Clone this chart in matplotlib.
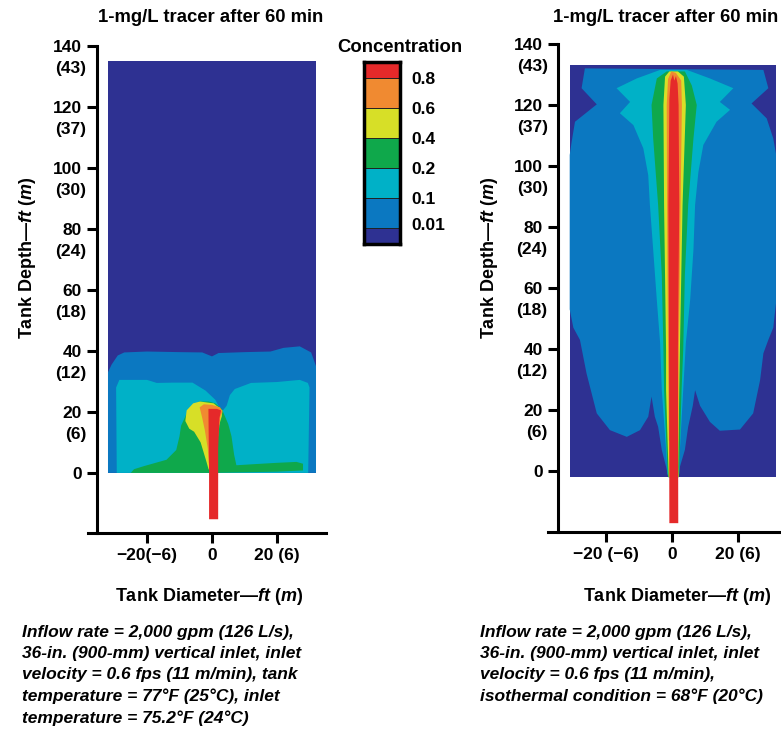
import matplotlib.pyplot as plt

plt.rcParams['font.family'] = ['Liberation Sans', 'DejaVu Sans']
plt.rcParams['font.weight'] = 'bold'
plt.rcParams['axes.labelweight'] = 'bold'
plt.rcParams['mathtext.fontset'] = 'custom'
plt.rcParams['mathtext.rm'] = 'Liberation Sans:bold'
plt.rcParams['mathtext.it'] = 'Liberation Sans:italic:bold'
plt.rcParams['mathtext.bf'] = 'Liberation Sans:bold'

# concentration classes and colours (lowest first)
levels = [0.0, 0.01, 0.1, 0.2, 0.4, 0.6, 0.8]
level_labels = ['0.01', '0.1', '0.2', '0.4', '0.6', '0.8']
colors = ['#2e3192', '#0b78c1', '#00b1c7', '#0fa84b', '#d7df27', '#f08a31', '#e5292a']

depth_ft = [0, 20, 40, 60, 80, 100, 120, 140]
depth_m = ['', '(6)', '(12)', '(18)', '(24)', '(30)', '(37)', '(43)']
diam_ft = [-20, 0, 20]
diam_labels_a = ['\u221220(\u22126)', '0', '20 (6)']
diam_labels_b = ['\u221220 (\u22126)', '0', '20 (6)']

# ---- left run: warmer tank, plume stays at the bottom (x, y in ft) ----
tank_a = [(-32, 0), (32, 0), (32, 135), (-32, 135)]
blue_a = [(-32, 0), (-32, 33), (-30.9, 35.5), (-29, 38.5), (-27, 39.5), (-20, 39.8),
          (-10, 39.6), (-3, 39.5), (0, 38.2), (2, 39.3), (10, 39.6), (18, 39.8),
          (22, 41), (27, 41.5), (30.5, 39.5), (32, 35), (32, 0)]
cyan_a = [(-29.3, 0), (-29.5, 28), (-28.5, 30.5), (-20, 30.5), (-17, 29.5), (-12, 29.6),
          (-6, 29.6), (-2, 27), (1, 24), (3, 20), (4.5, 22), (5.5, 25.5), (7, 27.5),
          (12, 29.5), (20, 29.8), (27, 30.5), (29.5, 29.5), (30, 28), (29.6, 0)]
green_a = [(-25, 0), (-24, 1.2), (-21, 2.2), (-14, 4.3), (-11, 7.5), (-10, 12),
           (-9.5, 15.5), (-8, 19), (-6, 21.5), (-4, 23.4), (-1, 23.4), (1, 22.8),
           (3, 21), (3.8, 19), (5, 16), (6, 12), (6.8, 6), (7.5, 2.5), (12, 2.8),
           (20, 3.3), (26, 3.6), (28, 3), (28, 0.8), (20, 0.4), (10, 0.2), (0, 0)]
yellow_a = [(-1.0, 1), (-1.8, 4), (-3.5, 10), (-5.5, 13.5), (-7, 14.5), (-8.2, 17),
            (-7.8, 20.5), (-5.8, 22.8), (-3.7, 23.4), (0.5, 22.8), (3.2, 20.5),
            (3, 18.5), (2, 15)]
orange_a = [(-1.0, 3), (-1.3, 8), (-2.2, 14), (-3, 18), (-3.8, 21.5), (-2.5, 22.5),
            (0, 22.3), (2.5, 21.5), (3.2, 20), (2.6, 18.5), (1.9, 12)]
red_a = [(-0.9, -15.2), (1.9, -15.2), (1.9, 8), (2.3, 18), (2.8, 20.5), (1.5, 21),
         (-1.1, 21), (-1.0, 10), (-0.9, 0)]

# ---- right run: isothermal, plume rises to the surface ----
tank_b = [(-31, -2), (31.5, -2), (31.5, 133), (-31, 133)]
blue_b = [(-26.4, 132), (27.7, 131.5), (29.2, 125.5), (24.1, 120.5), (28.7, 115.6),
          (30.7, 109), (31.5, 104), (31.5, 55), (30.7, 47), (29.2, 43), (27.7, 38.6),
          (26.7, 29.8), (24.6, 18.9), (20.6, 13.6), (14.5, 13.2), (11.5, 16.1),
          (8.5, 21.4), (7.0, 26.5), (6.3, 21.4), (4.9, 14.5), (3.9, 6.9), (2.4, 1.4),
          (2.0, -2), (-1.1, -2), (-1.8, 1.4), (-3.1, 6.9), (-4.2, 14.5), (-5.2, 17.8),
          (-6.2, 24.4), (-7.2, 17.8), (-9.7, 13.4), (-13.7, 11.2), (-18.8, 13.4),
          (-22.8, 18.9), (-25.9, 32), (-27.9, 43), (-29.9, 47), (-31, 53), (-31, 103.6),
          (-30.4, 108), (-29.4, 114.5), (-22.8, 120.2), (-27.4, 125.5)]
cyan_b = [(-3.6, 131.5), (-10.7, 128.7), (-16.8, 125.5), (-12.7, 121), (-15.8, 117.3),
          (-11.7, 113.4), (-8.7, 105.8), (-7.2, 97), (-6.7, 87.2), (-5.7, 72.5),
          (-4.6, 56), (-3.6, 42), (-3.1, 26.6), (-1.8, 6.9), (-1.4, -0.8), (-1.1, -2),
          (2.0, -2), (2.2, -0.8), (2.4, 6.9), (3.4, 26.6), (4.2, 42), (5.5, 56),
          (6.5, 72.5), (7.0, 87.2), (8.0, 98), (9.5, 106.9), (13.5, 114.5), (17.6, 118.4),
          (14.5, 121), (18.6, 125.5), (11.5, 128.7), (4.5, 131.5)]
green_b = [(-1.6, 131), (-4.6, 128.7), (-6.2, 120), (-5.7, 109), (-4.2, 87.2),
           (-3.1, 64.3), (-2.6, 39.7), (-2.4, 26.6), (-1.4, 1.4), (-1.2, -2), (2.1, -2),
           (2.2, 1.4), (2.9, 26.6), (3.4, 39.7), (3.9, 64.3), (4.9, 87.2), (6.5, 109),
           (7.5, 120), (6.0, 126.4), (3.9, 131)]
yellow_b = [(-0.8, 131), (-2.1, 129.3), (-2.6, 120), (-2.4, 87.2), (-1.8, 39.7),
            (-1.8, 26.6), (-1.1, 1.4), (-1.0, -2), (2.0, -2), (1.9, 1.4), (2.2, 26.6),
            (2.4, 39.7), (3.2, 87.2), (4.2, 120), (3.6, 129.3), (1.8, 131)]
orange_b = [(-0.2, 131), (-1.2, 128.5), (-1.6, 120), (-1.5, 87), (-1.2, 40),
            (-0.95, 10), (1.9, 10), (2.1, 40), (2.6, 87), (3.0, 120), (2.8, 128),
            (1.2, 130.5)]
red_b = [(-0.8, -17.1), (1.9, -17.1), (1.8, 40), (2.2, 87), (2.0, 120), (1.7, 127),
         (1.2, 129.5), (0.7, 128), (0.3, 130), (-0.4, 128), (-0.8, 122), (-1.1, 87),
         (-0.9, 40)]

title = '1-mg/L tracer after 60 min'
xlab = 'Tank Diameter\u2014$\\mathit{ft\\ (m)}$'
ylab = 'Tank Depth\u2014$\\mathit{ft\\ (m)}$'
note_a = ('Inflow rate = 2,000 gpm (126 L/s),\n36-in. (900-mm) vertical inlet, inlet\n'
          'velocity = 0.6 fps (11 m/min), tank\ntemperature = 77\u00b0F (25\u00b0C), inlet\n'
          'temperature = 75.2\u00b0F (24\u00b0C)')
note_b = ('Inflow rate = 2,000 gpm (126 L/s),\n36-in. (900-mm) vertical inlet, inlet\n'
          'velocity = 0.6 fps (11 m/min),\nisothermal condition = 68\u00b0F (20\u00b0C)')


def draw_panel(ax, bands, xlim, ylim, spine_x, xlabels, lab_xy, ylab_xy):
    for poly, c in zip(bands, colors):
        xs = [p[0] for p in poly]
        ys = [p[1] for p in poly]
        ax.fill(xs, ys, color=c, lw=0)
    ax.set_xlim(xlim)
    ax.set_ylim(ylim)
    ax.patch.set_visible(False)
    ax.spines['top'].set_visible(False)
    ax.spines['right'].set_visible(False)
    ax.spines['left'].set_position(('data', spine_x))
    ax.spines['left'].set_linewidth(2.2)
    ax.spines['bottom'].set_linewidth(2.2)
    ax.set_yticks(depth_ft)
    ax.set_yticklabels([str(d) for d in depth_ft])
    ax.set_yticks([d - 7 for d in depth_ft[1:]], minor=True)
    ax.set_yticklabels(depth_m[1:], minor=True)
    ax.set_xticks(diam_ft)
    ax.set_xticklabels(xlabels)
    ax.tick_params(which='major', direction='out', length=7, width=2.2,
                   labelsize=12.5, pad=4)
    ax.tick_params(axis='y', which='minor', length=0, labelsize=12.5, pad=7.5)
    ax.tick_params(axis='x', which='minor', length=0)
    ax.set_xlabel(xlab, fontsize=13, fontweight='bold', va='center')
    ax.xaxis.set_label_coords(*lab_xy)
    ax.set_ylabel(ylab, fontsize=13, fontweight='bold', va='center')
    ax.yaxis.set_label_coords(*ylab_xy)


fig = plt.figure(figsize=(7.81, 7.33), dpi=100)

ax1 = fig.add_axes([0.1133, 0.2729, 0.3038, 0.6644])
draw_panel(ax1, [tank_a, blue_a, cyan_a, green_a, yellow_a, orange_a, red_a],
           (-38, 35), (-19.7, 140), -35.4, diam_labels_a, (0.508, -0.131), (-0.259, 0.565))

ax2 = fig.add_axes([0.7020, 0.2742, 0.3063, 0.6658])
draw_panel(ax2, [tank_b, blue_b, cyan_b, green_b, yellow_b, orange_b, red_b],
           (-37.5, 35), (-20, 140), -34.5, diam_labels_b, (0.538, -0.133), (-0.244, 0.561))

fig.text(210.7 / 781, 1 - 17 / 733, title, ha='center', va='center', fontsize=13.3)
fig.text(665.5 / 781, 1 - 17 / 733, title, ha='center', va='center', fontsize=13.3)

# colour key
cax = fig.add_axes([0.4665, 0.6667, 0.0457, 0.2483])
for i, c in enumerate(colors):
    cax.bar(0, 1, bottom=i, width=1, color=c, edgecolor='#222222', linewidth=0.7)
cax.set_xlim(-0.5, 0.5)
cax.set_ylim(0.47, 6.53)
cax.set_xticks([])
cax.set_yticks([1.15, 2, 3, 4, 5, 6])
cax.set_yticklabels(level_labels)
cax.yaxis.tick_right()
cax.tick_params(axis='y', length=0, pad=8, labelsize=12.5)
for s in cax.spines.values():
    s.set_linewidth(2.5)
fig.text(400 / 781, 1 - 47 / 733, 'Concentration', ha='center', va='center', fontsize=13.3)

note_font = dict(family=['Liberation Sans', 'DejaVu Sans'],
                 style='italic', weight='bold', fontsize=12.5, va='top', linespacing=1.5)
fig.text(22 / 781, 1 - 625 / 733, note_a, **note_font)
fig.text(480 / 781, 1 - 625 / 733, note_b, **note_font)

plt.savefig('out.png', dpi=100)
